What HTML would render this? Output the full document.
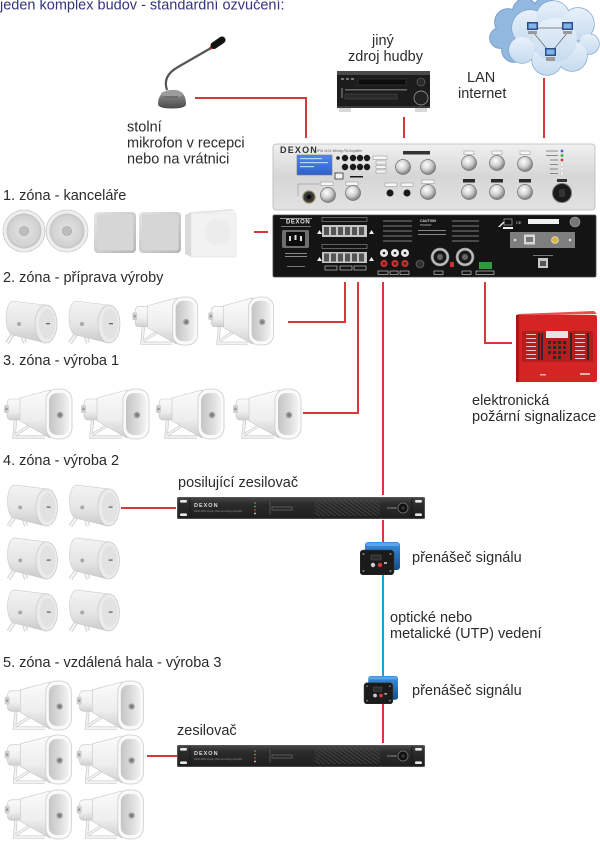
<!DOCTYPE html>
<html><head><meta charset="utf-8">
<style>
html,body{margin:0;padding:0;background:#fff;}
body{width:600px;height:842px;overflow:hidden;position:relative;}
svg{position:absolute;left:0;top:0;}
text{font-family:"Liberation Sans",Arial,sans-serif;font-size:14.5px;fill:#2b2b2b;}
</style></head><body>
<svg width="600" height="842" viewBox="0 0 600 842" xmlns="http://www.w3.org/2000/svg">
<defs>
 <linearGradient id="gHorn" x1="0" y1="0" x2="0" y2="1"><stop offset="0" stop-color="#fbfbfb"/><stop offset="0.6" stop-color="#eeeeee"/><stop offset="1" stop-color="#cfcfcf"/></linearGradient>
 <linearGradient id="gMouth" x1="0" y1="0" x2="1" y2="0"><stop offset="0" stop-color="#c4c4c4"/><stop offset="0.6" stop-color="#dedede"/><stop offset="1" stop-color="#f2f2f2"/></linearGradient>
 <linearGradient id="gCyl" x1="0" y1="0" x2="0" y2="1"><stop offset="0" stop-color="#f4f4f4"/><stop offset="0.6" stop-color="#e4e4e4"/><stop offset="1" stop-color="#c9c9c9"/></linearGradient>
 <radialGradient id="gRound" cx="0.5" cy="0.5" r="0.5"><stop offset="0" stop-color="#e4e4e4"/><stop offset="0.85" stop-color="#d2d2d2"/><stop offset="1" stop-color="#c2c2c2"/></radialGradient>
 <linearGradient id="gSq" x1="0" y1="0" x2="1" y2="1"><stop offset="0" stop-color="#e6e6e6"/><stop offset="1" stop-color="#b4b4b4"/></linearGradient>
 <linearGradient id="gFront" x1="0" y1="0" x2="0" y2="1"><stop offset="0" stop-color="#f0f0f0"/><stop offset="0.5" stop-color="#d6d6d6"/><stop offset="1" stop-color="#e2e2e2"/></linearGradient>
 <linearGradient id="gAmp" x1="0" y1="0" x2="0" y2="1"><stop offset="0" stop-color="#4a4a4a"/><stop offset="0.3" stop-color="#2c2c2c"/><stop offset="1" stop-color="#1e1e1e"/></linearGradient>
 <linearGradient id="gLcd" x1="0" y1="0" x2="0" y2="1"><stop offset="0" stop-color="#4f86ee"/><stop offset="1" stop-color="#2f5fc8"/></linearGradient>
 <radialGradient id="gKnob" cx="0.4" cy="0.35" r="0.6"><stop offset="0" stop-color="#ffffff"/><stop offset="0.6" stop-color="#cfcfcf"/><stop offset="1" stop-color="#8a8a8a"/></radialGradient>
 <linearGradient id="gMic" x1="0" y1="0" x2="0" y2="1"><stop offset="0" stop-color="#9a9a9a"/><stop offset="1" stop-color="#4a4a4a"/></linearGradient>
 <linearGradient id="gBlue" x1="0" y1="0" x2="0" y2="1"><stop offset="0" stop-color="#3c8fe0"/><stop offset="1" stop-color="#11508f"/></linearGradient>
 <linearGradient id="gCloud" x1="0" y1="0" x2="0" y2="1"><stop offset="0" stop-color="#e8f1fa"/><stop offset="1" stop-color="#c6dbf0"/></linearGradient>
 <pattern id="hatch" width="3" height="3" patternUnits="userSpaceOnUse" patternTransform="rotate(-55)"><line x1="0" y1="0" x2="0" y2="3" stroke="#585858" stroke-width="1"/></pattern>

 <symbol id="horn" viewBox="0 0 70 52">
  <path d="M13 27 L11 49 L42 49" fill="none" stroke="#c9c9c9" stroke-width="3.2"/>
  <path d="M13 27 L11 49 L42 49" fill="none" stroke="#f2f2f2" stroke-width="1.8"/>
  <path d="M12 47 L34 33" stroke="#cdcdcd" stroke-width="3"/>
  <path d="M12 47 L34 33" stroke="#f4f4f4" stroke-width="1.6"/>
  <rect x="4" y="11" width="16" height="21" rx="4" fill="url(#gHorn)" stroke="#c2c2c2" stroke-width="0.6"/>
  <rect x="1" y="17" width="5" height="8" rx="1.5" fill="#cfcfcf"/>
  <circle cx="3.5" cy="21" r="1.3" fill="#999"/>
  <path d="M17 10 L47 2 L47 50 L17 33 Z" fill="url(#gHorn)" stroke="#c6c6c6" stroke-width="0.6"/>
  <rect x="43" y="1" width="26" height="50" rx="11" fill="#fafafa" stroke="#cbcbcb" stroke-width="0.8"/>
  <rect x="46" y="5" width="20" height="42" rx="8" fill="url(#gMouth)"/>
  <circle cx="57" cy="27" r="3.2" fill="#a0a0a0"/>
  <circle cx="57" cy="27" r="1.6" fill="#7a7a7a"/>
 </symbol>

 <symbol id="cyl" viewBox="0 0 55 48">
  <path d="M16 28 L4 46 M16 28 L22 46" stroke="#c8c8c8" stroke-width="4" fill="none"/>
  <path d="M16 28 L4 46 M16 28 L22 46" stroke="#f5f5f5" stroke-width="2.4" fill="none"/>
  <path d="M10 4 L42 8 A11 19 0 0 1 42 46 L10 38 A7 17 0 0 1 10 4 Z" fill="url(#gCyl)" stroke="#cbcbcb" stroke-width="0.6"/>
  <ellipse cx="43" cy="27" rx="11" ry="19" fill="#ebebeb" stroke="#c6c6c6" stroke-width="0.7"/>
  <ellipse cx="44" cy="27" rx="8" ry="15" fill="#e2e2e2"/>
  <rect x="43" y="26" width="4" height="1.3" fill="#666"/>
  <circle cx="16" cy="27" r="2" fill="#a8a8a8"/>
 </symbol>

 <symbol id="amp" viewBox="0 0 248 22">
  <rect x="0" y="0" width="248" height="22" rx="1.5" fill="url(#gAmp)"/>
  <rect x="0.5" y="0.5" width="247" height="21" rx="1.5" fill="none" stroke="#5a5a5a" stroke-width="0.8"/>
  <rect x="3" y="3" width="7" height="2.6" rx="1.3" fill="#e8e8e8"/>
  <rect x="3" y="16.4" width="7" height="2.6" rx="1.3" fill="#e8e8e8"/>
  <rect x="238" y="3" width="7" height="2.6" rx="1.3" fill="#e8e8e8"/>
  <rect x="238" y="16.4" width="7" height="2.6" rx="1.3" fill="#e8e8e8"/>
  <line x1="13" y1="1" x2="13" y2="21" stroke="#161616" stroke-width="0.8"/>
  <line x1="235" y1="1" x2="235" y2="21" stroke="#161616" stroke-width="0.8"/>
  <text x="17" y="10" style="font-size:5.5px;fill:#dcdcdc;font-weight:bold;letter-spacing:1px">DEXON</text>
  <text x="17" y="15" style="font-size:2.6px;fill:#8a8a8a">DPM 2500 single channel mixing amplifier</text>
  <circle cx="78" cy="6" r="0.9" fill="#4a8fe0"/>
  <circle cx="78" cy="9.5" r="0.9" fill="#3fbf4f"/>
  <circle cx="78" cy="13" r="0.9" fill="#e04040"/>
  <circle cx="78" cy="16.5" r="0.9" fill="#dddddd"/>
  <line x1="93" y1="5" x2="93" y2="18" stroke="#777" stroke-width="0.5"/>
  <rect x="95" y="10" width="20" height="3" fill="none" stroke="#888" stroke-width="0.5"/>
  <rect x="138" y="3" width="65" height="16" fill="url(#hatch)"/>
  <text x="210" y="12" style="font-size:2.6px;fill:#aaa">POWER</text>
  <circle cx="226" cy="11" r="5" fill="#111" stroke="#6a6a6a" stroke-width="0.9"/>
  <circle cx="226" cy="11" r="1.6" fill="#3a3a3a"/>
 </symbol>

 <symbol id="conv" viewBox="0 0 40 33">
  <rect x="5" y="0" width="35" height="28" rx="3" fill="url(#gBlue)"/>
  <rect x="6" y="1" width="33" height="3" rx="1.5" fill="#5aa6ec"/>
  <rect x="0" y="8" width="34" height="25" rx="3.5" fill="#1b1b1b" stroke="#3a3a3a" stroke-width="0.6"/>
  <circle cx="3.5" cy="12" r="1" fill="#888"/>
  <circle cx="30.5" cy="12" r="1" fill="#888"/>
  <circle cx="3.5" cy="29" r="1" fill="#888"/>
  <circle cx="30.5" cy="29" r="1" fill="#888"/>
  <rect x="11" y="13" width="10" height="5" fill="#2e2e2e" stroke="#666" stroke-width="0.4"/>
  <circle cx="13" cy="23" r="2.2" fill="#cfcfcf"/>
  <circle cx="20" cy="23" r="2.2" fill="#d23a3a"/>
  <rect x="24" y="20" width="3" height="2" fill="#aaa"/>
 </symbol>
</defs>

<!-- ========== TEXT ========== -->
<text x="0" y="9.5" style="fill:#33357e">jeden komplex budov - standardní ozvučení:</text>
<text x="127" y="131.5">stolní</text>
<text x="127" y="147.5">mikrofon v recepci</text>
<text x="127" y="163.5">nebo na vrátnici</text>
<text x="372" y="45">jiný</text>
<text x="348" y="61">zdroj hudby</text>
<text x="467" y="82">LAN</text>
<text x="458" y="98">internet</text>
<text x="3" y="200">1. zóna - kanceláře</text>
<text x="3" y="282">2. zóna - příprava výroby</text>
<text x="3" y="365">3. zóna - výroba 1</text>
<text x="3" y="465">4. zóna - výroba 2</text>
<text x="472" y="405">elektronická</text>
<text x="472" y="421">požární signalizace</text>
<text x="178" y="487">posilující zesilovač</text>
<text x="412" y="562">přenášeč signálu</text>
<text x="390" y="622">optické nebo</text>
<text x="390" y="638">metalické (UTP) vedení</text>
<text x="3" y="667">5. zóna - vzdálená hala - výroba 3</text>
<text x="412" y="695">přenášeč signálu</text>
<text x="177" y="735">zesilovač</text>

<!-- ========== CONNECTORS ========== -->
<g stroke="#d7373d" stroke-width="2" fill="none">
 <path d="M195 98 H306 V138"/>
 <path d="M404 117 V138"/>
 <path d="M544 78 V138"/>
 <path d="M254 232 H268"/>
 <path d="M288 322 H345 V282"/>
 <path d="M303 413 H358 V282"/>
 <path d="M383 282 V495"/>
 <path d="M485 282 V343 H512"/>
 <path d="M121 508 H176"/>
 <path d="M383 520 V542"/>
 <path d="M383 703 V743"/>
 <path d="M147 756 H177"/>
</g>
<path d="M383 575 V677" stroke="#1ea0dc" stroke-width="2" fill="none"/>

<!-- ========== MICROPHONE ========== -->
<path d="M167 90 Q162 76 178 67 L211 48" stroke="#555" stroke-width="2.2" fill="none"/>
<path d="M210 48.5 L214 46" stroke="#c83030" stroke-width="3.2"/>
<path d="M214 45.5 L222 40" stroke="#111" stroke-width="7" stroke-linecap="round"/>
<path d="M158 104 Q158 92 170 90 L176 90 Q186 92 186 104 Q186 108.5 172 108.5 Q158 108.5 158 104Z" fill="url(#gMic)"/>
<ellipse cx="172" cy="94" rx="11" ry="3.5" fill="#9c9c9c"/>
<rect x="164" y="96" width="14" height="2" rx="1" fill="#6a6a6a"/>

<!-- ========== RECEIVER ========== -->
<rect x="337" y="71" width="93" height="37" rx="2" fill="#1c1c1c"/>
<rect x="337" y="71" width="93" height="4" fill="#4a4a4a"/>
<rect x="341" y="78" width="3" height="2" fill="#777"/><rect x="346" y="78" width="3" height="2" fill="#777"/><rect x="351" y="78" width="3" height="2" fill="#777"/>
<rect x="358" y="79" width="48" height="6" fill="#0d0d0d" stroke="#444" stroke-width="0.5"/>
<rect x="345" y="89" width="62" height="1.5" fill="#6a6a6a"/>
<rect x="345" y="94" width="52" height="5" fill="#2a2a2a" stroke="#555" stroke-width="0.5"/>
<rect x="341" y="88" width="2" height="10" fill="#555"/>
<circle cx="421" cy="82" r="4" fill="#2a2a2a" stroke="#777" stroke-width="0.6"/>
<circle cx="421" cy="98" r="7" fill="#222" stroke="#8a8a8a" stroke-width="0.9"/>
<rect x="337" y="106" width="93" height="2" fill="#3a3a3a"/>
<rect x="339" y="108" width="12" height="4" fill="#d8d8d8"/>
<rect x="415" y="108" width="12" height="4" fill="#d8d8d8"/>

<!-- ========== CLOUD ========== -->
<g stroke="#6f96c4" stroke-width="1.6" fill="#93b8e0">
 <circle cx="508" cy="22" r="13"/><circle cx="525" cy="11" r="12"/><circle cx="545" cy="9" r="11"/>
 <circle cx="500" cy="38" r="10"/><circle cx="514" cy="50" r="12"/>
</g>
<g fill="#93b8e0">
 <circle cx="508" cy="22" r="13"/><circle cx="525" cy="11" r="12"/><circle cx="545" cy="9" r="11"/>
 <circle cx="500" cy="38" r="10"/><circle cx="514" cy="50" r="12"/><circle cx="520" cy="30" r="14"/>
</g>
<g stroke="#7ea5d2" stroke-width="1.4" fill="#d6e5f5">
 <circle cx="530" cy="28" r="18"/><circle cx="553" cy="18" r="17"/><circle cx="578" cy="24" r="16"/>
 <circle cx="589" cy="44" r="10"/><circle cx="572" cy="56" r="15"/><circle cx="547" cy="60" r="15"/>
 <circle cx="522" cy="50" r="13"/>
</g>
<g fill="url(#gCloud)">
 <circle cx="530" cy="28" r="18"/><circle cx="553" cy="18" r="17"/><circle cx="578" cy="24" r="16"/>
 <circle cx="589" cy="44" r="10"/><circle cx="572" cy="56" r="15"/><circle cx="547" cy="60" r="15"/>
 <circle cx="522" cy="50" r="13"/><circle cx="555" cy="40" r="22"/>
</g>
<g stroke="#666" stroke-width="0.7">
 <line x1="537" y1="28" x2="563" y2="28"/><line x1="533" y1="32" x2="547" y2="49"/><line x1="568" y1="32" x2="554" y2="49"/>
</g>
<g>
 <rect x="527" y="22" width="11" height="8" fill="#2c4c8c"/><rect x="528.5" y="23.5" width="8" height="5" fill="#7fb3e6"/><rect x="528" y="31" width="9" height="3" fill="#999"/>
 <rect x="562" y="22" width="11" height="8" fill="#2c4c8c"/><rect x="563.5" y="23.5" width="8" height="5" fill="#7fb3e6"/><rect x="563" y="31" width="9" height="3" fill="#999"/>
 <rect x="545" y="48" width="11" height="8" fill="#2c4c8c"/><rect x="546.5" y="49.5" width="8" height="5" fill="#7fb3e6"/><rect x="546" y="57" width="9" height="4" fill="#999"/>
</g>

<!-- ========== MAIN AMP FRONT ========== -->
<rect x="273" y="144" width="322" height="66" rx="3" fill="url(#gFront)" stroke="#b9b9b9" stroke-width="0.8"/>
<text x="280" y="153" style="font-size:9px;font-weight:bold;fill:#333;letter-spacing:1.2px">DEXON</text>
<text x="316" y="152" style="font-size:3.5px;fill:#666;font-style:italic">JPM 1101 Mixing PA Amplifier</text>
<rect x="297" y="155" width="35" height="20" fill="url(#gLcd)" stroke="#7a7a7a" stroke-width="0.6"/>
<rect x="300" y="158" width="22" height="1.2" fill="#bcd3ff"/><rect x="300" y="162" width="28" height="1.2" fill="#bcd3ff"/><rect x="300" y="166" width="14" height="1.2" fill="#bcd3ff"/>
<g fill="#1a1a1a">
 <circle cx="338" cy="158" r="1.8"/>
 <circle cx="345" cy="158" r="3.2"/><circle cx="353" cy="158" r="3.2"/><circle cx="360" cy="158" r="3.2"/><circle cx="367" cy="158" r="3.2"/>
 <circle cx="345" cy="167" r="3.2"/><circle cx="353" cy="167" r="3.2"/><circle cx="360" cy="167" r="3.2"/><circle cx="367" cy="167" r="3.2"/>
 <rect x="350" y="176" width="13" height="1.5"/>
 <circle cx="390" cy="193" r="3.5"/><circle cx="407" cy="193" r="3.5"/>
</g>
<rect x="335" y="173" width="8" height="6" fill="#f4f4f4" stroke="#333" stroke-width="0.8"/>
<g fill="#f7f7f7" stroke="#777" stroke-width="0.4">
 <rect x="373" y="156" width="14" height="3.5"/><rect x="376" y="161" width="10" height="3"/><rect x="376" y="165.5" width="10" height="3"/><rect x="376" y="170" width="10" height="3"/>
 <rect x="385" y="183" width="12" height="3.5"/><rect x="401" y="183" width="12" height="3.5"/>
 <rect x="321" y="182" width="12" height="3.5"/><rect x="346" y="182" width="12" height="3.5"/>
 <rect x="464" y="151" width="10" height="3.5"/><rect x="492" y="151" width="10" height="3.5"/><rect x="520" y="151" width="10" height="3.5"/>
 <rect x="422" y="180" width="12" height="3.5"/>
</g>
<rect x="403" y="151" width="27" height="3.5" fill="#333"/>
<g fill="#2a2a2a"><rect x="463" y="179" width="12" height="3.5"/><rect x="491" y="179" width="12" height="3.5"/><rect x="519" y="179" width="12" height="3.5"/></g>
<path d="M298 196 V184 H320" stroke="#888" stroke-width="0.5" fill="none"/>
<circle cx="309" cy="197" r="6" fill="#3a3a3a" stroke="#9a8a5a" stroke-width="1.2"/>
<circle cx="309" cy="197" r="2.5" fill="#0c0c0c"/>
<g fill="url(#gKnob)" stroke="#6e6e6e" stroke-width="0.7">
 <circle cx="403" cy="167" r="7.5"/><circle cx="428" cy="167" r="7.5"/>
 <circle cx="469" cy="163" r="7.5"/><circle cx="497" cy="163" r="7.5"/><circle cx="525" cy="164" r="7.5"/>
 <circle cx="328" cy="195" r="7.5"/><circle cx="353" cy="193" r="7.5"/>
 <circle cx="428" cy="192" r="7.5"/><circle cx="469" cy="192" r="7.5"/><circle cx="497" cy="192" r="7.5"/><circle cx="525" cy="192" r="7.5"/>
</g>
<circle cx="562" cy="151" r="1.4" fill="#3366cc"/>
<circle cx="562" cy="155.5" r="1.4" fill="#33aa44"/>
<circle cx="562" cy="160" r="1.4" fill="#dd3333"/>
<circle cx="562" cy="164.5" r="1.4" fill="#fafafa" stroke="#aaa" stroke-width="0.3"/>
<circle cx="562" cy="169" r="1.4" fill="#fafafa" stroke="#aaa" stroke-width="0.3"/>
<circle cx="562" cy="173.5" r="1.4" fill="#fafafa" stroke="#aaa" stroke-width="0.3"/>
<g fill="#888"><rect x="546" y="150.5" width="12" height="1"/><rect x="546" y="155" width="12" height="1"/><rect x="550" y="159.5" width="8" height="1"/><rect x="550" y="164" width="8" height="1"/><rect x="550" y="168.5" width="8" height="1"/><rect x="550" y="173" width="8" height="1"/></g>
<rect x="557" y="179" width="10" height="3" fill="#333"/>
<circle cx="562" cy="193" r="9.5" fill="#1a1a1a" stroke="#777" stroke-width="1"/>
<rect x="559" y="189" width="6" height="8" rx="1" fill="#333"/>

<!-- ========== MAIN AMP BACK ========== -->
<rect x="273" y="215" width="323" height="62" rx="1.5" fill="#141414" stroke="#4a4a4a" stroke-width="0.8"/>
<text x="286" y="223.5" style="font-size:6px;fill:#e8e8e8;font-weight:bold;letter-spacing:0.6px">DEXON</text>
<rect x="280" y="218" width="32" height="1" fill="#999"/>
<rect x="281" y="226" width="30" height="1" fill="#777"/>
<rect x="282" y="230" width="27" height="18" rx="1.5" fill="#6e6e6e"/>
<rect x="286" y="232" width="19" height="14" rx="1" fill="#0c0c0c"/>
<rect x="289" y="236" width="2" height="5" fill="#ddd"/><rect x="294.5" y="235" width="2" height="5" fill="#ddd"/><rect x="300" y="236" width="2" height="5" fill="#ddd"/>
<rect x="285" y="253" width="22" height="1" fill="#888"/><rect x="285" y="256" width="22" height="1" fill="#888"/><rect x="287" y="266" width="18" height="1" fill="#777"/>
<rect x="322" y="217.5" width="45" height="4" fill="none" stroke="#aaa" stroke-width="0.5"/>
<rect x="322" y="244.5" width="45" height="4" fill="none" stroke="#aaa" stroke-width="0.5"/>
<rect x="322" y="225" width="45" height="12" fill="#c6c6c6"/>
<rect x="322" y="252" width="45" height="11" fill="#c6c6c6"/>
<g fill="#555">
 <rect x="324" y="227" width="5" height="8"/><rect x="331" y="227" width="5" height="8"/><rect x="338" y="227" width="5" height="8"/><rect x="345" y="227" width="5" height="8"/><rect x="352" y="227" width="5" height="8"/><rect x="359" y="227" width="5" height="8"/>
 <rect x="324" y="253.5" width="5" height="8"/><rect x="331" y="253.5" width="5" height="8"/><rect x="338" y="253.5" width="5" height="8"/><rect x="345" y="253.5" width="5" height="8"/><rect x="352" y="253.5" width="5" height="8"/><rect x="359" y="253.5" width="5" height="8"/>
</g>
<g fill="#eee"><path d="M317 234 l2.5 -4 l2.5 4z"/><path d="M369 234 l2.5 -4 l2.5 4z"/><path d="M317 261 l2.5 -4 l2.5 4z"/><path d="M369 261 l2.5 -4 l2.5 4z"/></g>
<g fill="none" stroke="#ddd" stroke-width="0.6"><rect x="325" y="266" width="12" height="4"/><rect x="340" y="266" width="12" height="4"/><rect x="354" y="266" width="12" height="4"/></g>
<g fill="#4a4a4a"><rect x="383" y="220" width="29" height="2"/><rect x="383" y="225" width="29" height="2"/><rect x="383" y="230" width="29" height="2"/><rect x="383" y="235" width="29" height="2"/><rect x="383" y="240" width="29" height="2"/>
<rect x="452" y="220" width="27" height="2"/><rect x="452" y="225" width="27" height="2"/><rect x="452" y="230" width="27" height="2"/><rect x="452" y="235" width="27" height="2"/><rect x="452" y="240" width="27" height="2"/></g>
<text x="420" y="222" style="font-size:3.5px;fill:#ddd;font-weight:bold">CAUTION</text>
<text x="420" y="226" style="font-size:3px;fill:#ccc">POZOR!</text>
<rect x="418" y="230" width="28" height="1" fill="#888"/><rect x="418" y="234" width="28" height="1" fill="#888"/>
<g stroke="#ddd" stroke-width="0.9"><circle cx="384" cy="253" r="3.6" fill="#eee"/><circle cx="395" cy="253" r="3.6" fill="#eee"/><circle cx="405" cy="253" r="3.6" fill="#eee"/></g>
<g><circle cx="384" cy="263.5" r="3.6" fill="#c93030"/><circle cx="395" cy="263.5" r="3.6" fill="#c93030"/><circle cx="405" cy="263.5" r="3.6" fill="#c93030"/></g>
<g fill="#222"><circle cx="384" cy="253" r="1.3"/><circle cx="395" cy="253" r="1.3"/><circle cx="405" cy="253" r="1.3"/><circle cx="384" cy="263.5" r="1.3"/><circle cx="395" cy="263.5" r="1.3"/><circle cx="405" cy="263.5" r="1.3"/></g>
<g fill="none" stroke="#ddd" stroke-width="0.6"><rect x="378" y="271" width="10" height="3.5"/><rect x="390" y="271" width="8" height="3.5"/><rect x="400" y="271" width="9" height="3.5"/><rect x="434" y="271" width="9" height="3.5"/><rect x="462" y="271" width="9" height="3.5"/><rect x="476" y="271" width="18" height="3.5"/></g>
<circle cx="420" cy="264" r="4" fill="#333" stroke="#777" stroke-width="0.6"/>
<circle cx="440" cy="257" r="9" fill="#bdbdbd" stroke="#888" stroke-width="0.6"/><circle cx="440" cy="257" r="6.5" fill="#1a1a1a"/><circle cx="440" cy="257" r="3" fill="#666"/>
<circle cx="465" cy="257" r="9" fill="#bdbdbd" stroke="#888" stroke-width="0.6"/><circle cx="465" cy="257" r="6.5" fill="#1a1a1a"/><circle cx="465" cy="257" r="3" fill="#666"/>
<rect x="450" y="262" width="4" height="5" fill="#d03030"/>
<rect x="479" y="262" width="13" height="7" fill="#2f9a3c"/>
<g fill="#eee"><path d="M498 227 l5 -5 l2 0 l-5 5z"/></g>
<rect x="504" y="219" width="8" height="6" fill="none" stroke="#ddd" stroke-width="0.5"/>
<rect x="503" y="227" width="10" height="2" fill="#eee"/>
<text x="516" y="224" style="font-size:4px;fill:#ddd">CE</text>
<rect x="528" y="219" width="31" height="5" fill="#f0f0f0"/>
<circle cx="575" cy="222" r="5" fill="#777" stroke="#aaa" stroke-width="0.6"/>
<rect x="510" y="232" width="65" height="16" fill="#7e7e7e"/>
<rect x="524" y="234.5" width="11" height="10" fill="#d8d8d8"/><rect x="526" y="237" width="7" height="5" fill="#777"/>
<circle cx="555" cy="240" r="3.5" fill="#d9b84a" stroke="#eee" stroke-width="0.6"/>
<circle cx="515" cy="240" r="1.3" fill="#ddd"/><circle cx="570" cy="240" r="1.3" fill="#ddd"/>
<rect x="538" y="258" width="10" height="10" fill="#c8c8c8"/><rect x="540" y="261" width="6" height="5" fill="#555"/>
<rect x="533" y="255" width="20" height="1" fill="#777"/>

<!-- ========== FIRE PANEL ========== -->
<path d="M518 314 L594 311 L597 314 L516 316 Z" fill="#e65050"/>
<rect x="516" y="315" width="81" height="67" rx="2" fill="#d42424"/>
<rect x="516" y="315" width="3" height="67" fill="#a81616"/>
<rect x="522" y="331" width="71" height="31" fill="#b91c1c"/>
<rect x="546" y="331" width="22" height="7" fill="#e4e4e4"/>
<g fill="#2a2a2a">
 <rect x="548" y="341" width="3" height="3"/><rect x="553" y="341" width="3" height="3"/><rect x="558" y="341" width="3" height="3"/><rect x="563" y="341" width="3" height="3"/>
 <rect x="548" y="346" width="3" height="3"/><rect x="553" y="346" width="3" height="3"/><rect x="558" y="346" width="3" height="3"/><rect x="563" y="346" width="3" height="3"/>
 <rect x="548" y="351" width="3" height="3"/><rect x="553" y="351" width="3" height="3"/><rect x="558" y="351" width="3" height="3"/><rect x="563" y="351" width="3" height="3"/>
 <rect x="553" y="356" width="3" height="3"/><rect x="558" y="356" width="3" height="3"/>
</g>
<g fill="#f0c0c0">
 <rect x="526" y="334" width="10" height="1"/><rect x="526" y="338" width="10" height="1"/><rect x="526" y="342" width="10" height="1"/><rect x="526" y="346" width="10" height="1"/><rect x="526" y="350" width="10" height="1"/><rect x="526" y="354" width="10" height="1"/><rect x="526" y="358" width="10" height="1"/>
 <rect x="575" y="334" width="10" height="1"/><rect x="575" y="338" width="10" height="1"/><rect x="575" y="342" width="10" height="1"/><rect x="575" y="346" width="10" height="1"/><rect x="575" y="350" width="10" height="1"/><rect x="575" y="354" width="10" height="1"/><rect x="575" y="358" width="10" height="1"/>
</g>
<g fill="#2a2a2a"><rect x="538" y="333" width="2" height="27"/><rect x="541" y="333" width="2" height="27"/><rect x="570" y="333" width="2" height="27"/><rect x="587" y="333" width="2" height="27"/></g>
<rect x="580" y="373" width="10" height="2" fill="#f3b0b0"/>
<rect x="540" y="374" width="6" height="1.5" fill="#f3b0b0"/>

<!-- ========== ZONE 1 ========== -->
<g>
 <circle cx="24" cy="231" r="21" fill="#eeeeee" stroke="#c9c9c9" stroke-width="0.8"/>
 <circle cx="24" cy="231" r="17.5" fill="url(#gRound)"/>
 <circle cx="24" cy="231" r="4.5" fill="#bdbdbd" stroke="#999" stroke-width="0.6"/>
 <circle cx="67" cy="231" r="21" fill="#eeeeee" stroke="#c9c9c9" stroke-width="0.8"/>
 <circle cx="67" cy="231" r="17.5" fill="url(#gRound)"/>
 <circle cx="67" cy="231" r="4.5" fill="#bdbdbd" stroke="#999" stroke-width="0.6"/>
 <rect x="94" y="212" width="42" height="41" rx="4" fill="url(#gSq)"/>
 <rect x="97" y="214.5" width="36.5" height="36" rx="2" fill="#d6d6d6"/>
 <rect x="139" y="212" width="42" height="41" rx="4" fill="url(#gSq)"/>
 <rect x="142" y="214.5" width="36.5" height="36" rx="2" fill="#d6d6d6"/>
 <path d="M185 215 L191 212 L191 257 L185 254 Z" fill="#dadada"/>
 <path d="M191 212 L231 209 L236 211 L191 214 Z" fill="#e6e6e6"/>
 <rect x="191" y="213" width="45" height="44" fill="#f2f2f2" stroke="#dedede" stroke-width="0.5"/>
 <circle cx="218" cy="232" r="13" fill="#ececec"/>
</g>

<!-- ========== ZONE 2 ========== -->
<use href="#cyl" x="3" y="297" width="55" height="48"/>
<use href="#cyl" x="66" y="297" width="55" height="48"/>
<use href="#horn" x="130" y="296" width="70" height="50"/>
<use href="#horn" x="206" y="296" width="70" height="50"/>

<!-- ========== ZONE 3 ========== -->
<use href="#horn" x="3" y="388" width="70" height="52"/>
<use href="#horn" x="80" y="388" width="70" height="52"/>
<use href="#horn" x="155" y="388" width="70" height="52"/>
<use href="#horn" x="232" y="388" width="70" height="52"/>

<!-- ========== ZONE 4 ========== -->
<use href="#cyl" x="4" y="481" width="55" height="47"/>
<use href="#cyl" x="66" y="481" width="55" height="47"/>
<use href="#cyl" x="4" y="534" width="55" height="47"/>
<use href="#cyl" x="66" y="534" width="55" height="47"/>
<use href="#cyl" x="4" y="586" width="55" height="47"/>
<use href="#cyl" x="66" y="586" width="55" height="47"/>

<!-- ========== AMPS & CONVERTERS ========== -->
<use href="#amp" x="177" y="497" width="248" height="22"/>
<use href="#amp" x="177" y="745" width="248" height="22"/>
<use href="#conv" x="360" y="542" width="40" height="33"/>
<use href="#conv" x="362" y="676" width="38" height="28"/>

<!-- ========== ZONE 5 ========== -->
<use href="#horn" x="3" y="680" width="70" height="51"/>
<use href="#horn" x="75" y="680" width="70" height="51"/>
<use href="#horn" x="3" y="734" width="70" height="51"/>
<use href="#horn" x="75" y="734" width="70" height="51"/>
<use href="#horn" x="3" y="789" width="70" height="51"/>
<use href="#horn" x="75" y="789" width="70" height="51"/>
</svg>
</body></html>
